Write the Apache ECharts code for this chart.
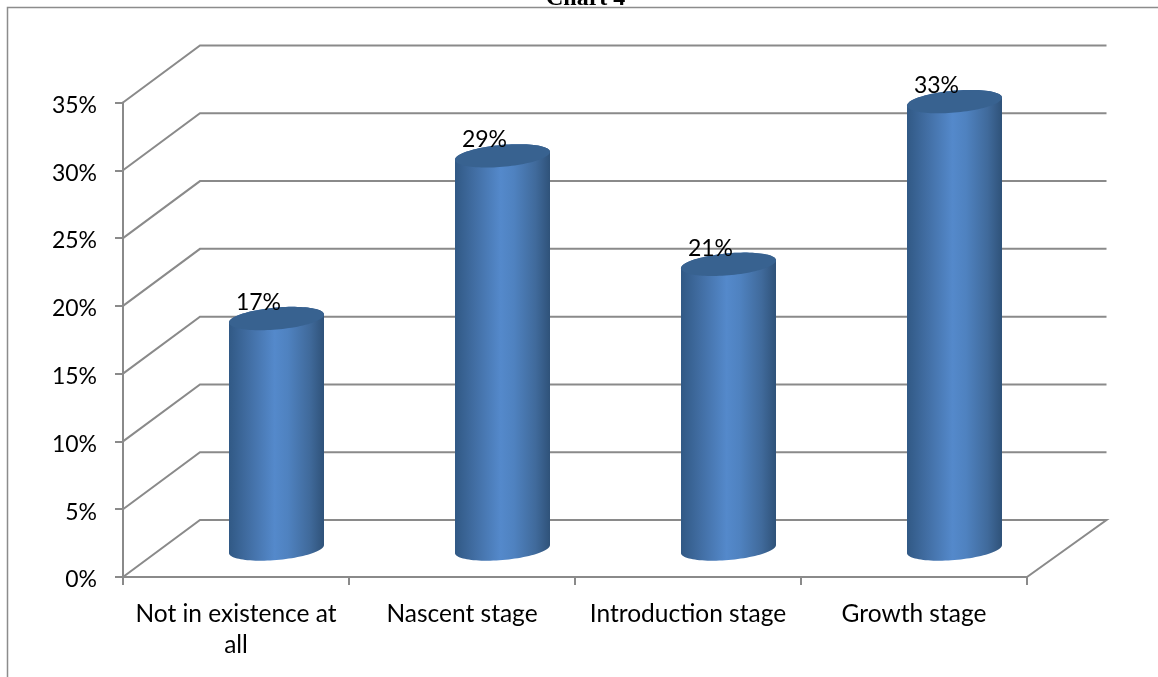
<!DOCTYPE html>
<html><head><meta charset="utf-8">
<style>html,body{margin:0;padding:0;background:#fff}#c{width:1158px;height:677px}</style>
<script src="https://cdn.jsdelivr.net/npm/echarts@6/dist/echarts.min.js"></script>
</head><body><div id="c"></div>
<script>
const categories = ['Not in existence at\nall', 'Nascent stage', 'Introduction stage', 'Growth stage'];
const values = [17, 29, 21, 33];
const yTicks = [0, 5, 10, 15, 20, 25, 30, 35];
const titleText = 'Chart 4';

const GREY = '#8a8a8a';
const DEPTH_X = 77, DEPTH_Y = 57, RIGHT_X = 79.5;
const FONT = 'Lato';
const chart = echarts.init(document.getElementById('c'));

function ellipsePts(cx, cy, a, b, s, from, to, n) {
  const pts = [];
  for (let i = 0; i <= n; i++) {
    const t = from + (to - from) * i / n;
    pts.push([cx + a * Math.cos(t), cy + b * Math.sin(t) - s * Math.cos(t)]);
  }
  return pts;
}

chart.setOption({
  animation: false,
  backgroundColor: '#fff',
  title: {
    text: titleText, left: 541, top: -18,
    textStyle: { fontFamily: 'Liberation Serif', fontWeight: 'bold', fontSize: 24, color: '#000' }
  },
  grid: { left: 123, right: 131, top: 102.5, bottom: 100 },
  xAxis: {
    type: 'category', data: categories,
    axisLine: { lineStyle: { color: GREY, width: 2 } },
    axisTick: { show: true, length: 8, alignWithLabel: false, lineStyle: { color: GREY, width: 2 } },
    axisLabel: { color: '#000', fontFamily: FONT, fontSize: 24.5, margin: 22, lineHeight: 31, interval: 0 }
  },
  yAxis: {
    type: 'value', min: 0, max: 35, interval: 5,
    splitLine: { show: false },
    axisLine: { show: true, lineStyle: { color: GREY, width: 2 } },
    axisTick: { show: true, length: 8, lineStyle: { color: GREY, width: 2 } },
    axisLabel: { color: '#000', fontFamily: FONT, fontSize: 23, margin: 26, verticalAlign: 'top', lineHeight: 6, formatter: '{value}%' }
  },
  series: [
    {
      type: 'custom', z: 1, silent: true,
      data: yTicks.map(v => [0, v]),
      encode: { x: 0, y: 1 },
      renderItem(params, api) {
        const cs = params.coordSys;
        const v = api.value(1);
        const y = api.coord([0, v])[1];
        const x0 = cs.x, x1 = cs.x + cs.width;
        const pts = [[x0, y], [x0 + DEPTH_X, y - DEPTH_Y], [x1 + RIGHT_X, y - DEPTH_Y]];
        if (v === 0) pts.push([x1, y]);
        return { type: 'polyline', shape: { points: pts }, style: { fill: 'none', stroke: GREY, lineWidth: 2 } };
      }
    },
    {
      type: 'custom', z: 3,
      data: values.map((v, i) => [i, v]),
      encode: { x: 0, y: 1 },
      renderItem(params, api) {
        const top = api.coord([api.value(0), api.value(1)]);
        const base = api.coord([api.value(0), 0]);
        const a = 47.5, b = 11, s = 4;
        const cx = top[0] + 40.5;
        const cyT = top[1] - 28, cyB = base[1] - 28;
        const body = ellipsePts(cx, cyB, a, b, s, 0, Math.PI, 48)
          .concat(ellipsePts(cx, cyT, a, b, s, Math.PI, 2 * Math.PI, 48));
        return {
          type: 'group',
          children: [
            {
              type: 'polygon', shape: { points: body },
              style: {
                fill: new echarts.graphic.LinearGradient(0, 0, 1, 0, [
                  { offset: 0, color: '#315985' },
                  { offset: 0.2, color: '#416da2' },
                  { offset: 0.48, color: '#5489cb' },
                  { offset: 0.62, color: '#4f82c0' },
                  { offset: 0.85, color: '#406a9b' },
                  { offset: 1, color: '#2f5279' }
                ])
              }
            },
            {
              type: 'polygon', shape: { points: ellipsePts(cx, cyT, a, b, s, 0, 2 * Math.PI, 96) },
              style: { fill: '#386290' }
            },
            {
              type: 'text', z2: 10,
              style: {
                text: api.value(1) + '%', x: cx - 18, y: cyT - 16,
                align: 'center', verticalAlign: 'middle',
                fill: '#000', font: '23px ' + FONT
              }
            }
          ]
        };
      }
    }
  ],
  graphic: [{
    type: 'polyline', silent: true,
    shape: { points: [[7.5, 677], [7.5, 7.5], [1158, 7.5]] },
    style: { fill: 'none', stroke: '#8c8c8c', lineWidth: 1.5 }
  }]
});
</script></body></html>
